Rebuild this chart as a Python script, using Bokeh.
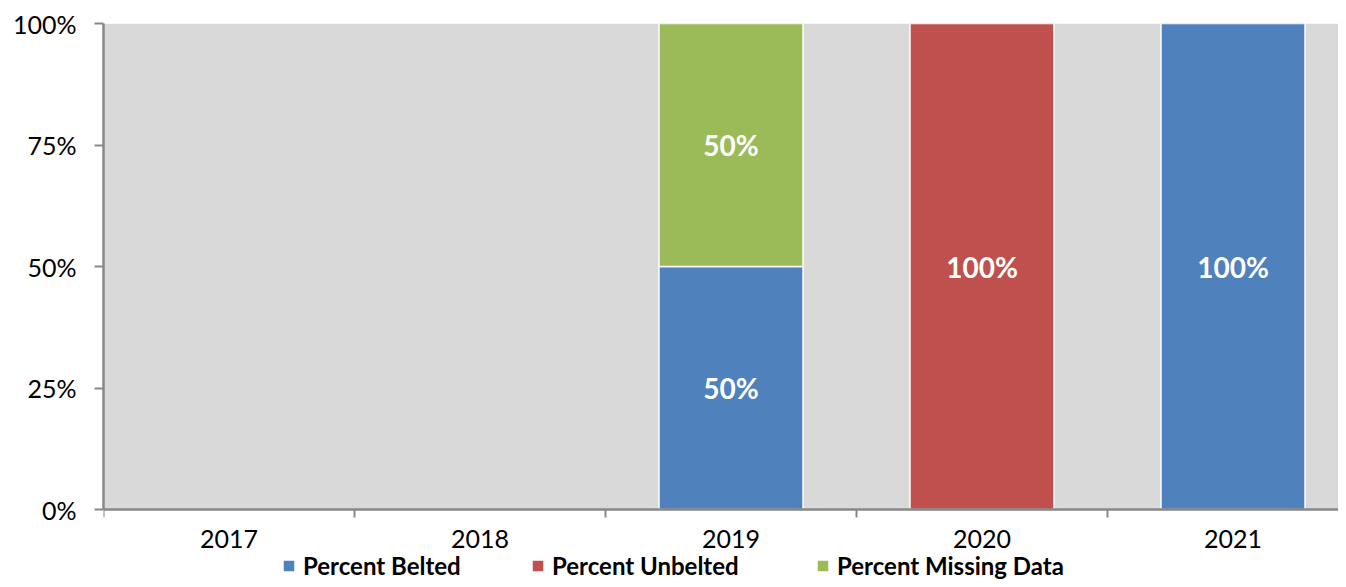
from bokeh.plotting import figure
from bokeh.models import (ColumnDataSource, FixedTicker, NumeralTickFormatter, Legend, LegendItem,
                          Range1d, LinearAxis, BoxAnnotation)
from bokeh.core.properties import value
from bokeh.embed import file_html
from bokeh.resources import INLINE

years = ["2017", "2018", "2019", "2020", "2021"]
belted = [0.0, 0.0, 0.5, 0.0, 1.0]
unbelted = [0.0, 0.0, 0.0, 1.0, 0.0]
missing = [0.0, 0.0, 0.5, 0.0, 0.0]
y_ticks = [0, 0.25, 0.5, 0.75, 1.0]

series = [("Percent Belted", belted, "#4F81BD"),
          ("Percent Unbelted", unbelted, "#C0504D"),
          ("Percent Missing Data", missing, "#9BBB59")]

FONT = "Lato"
W, H = 1338, 579
TOP, LEFT, ZERO_Y = 23, 103, 509
span = (H - TOP) / (ZERO_Y - TOP)
p = figure(width=W, height=H, output_backend="svg", toolbar_location=None,
           x_range=Range1d(0, (W - LEFT) / 251), y_range=Range1d(1 - span, 1),
           x_axis_location=None,
           min_border_left=LEFT, min_border_top=TOP, min_border_right=0, min_border_bottom=0)
p.background_fill_color = "white"
p.border_fill_color = "white"
p.outline_line_color = None
p.add_layout(BoxAnnotation(bottom=0, top=1, fill_color="#D9D9D9", fill_alpha=1,
                           line_color=None, level="underlay"))
p.xgrid.grid_line_color = None
p.ygrid.ticker = FixedTicker(ticks=y_ticks[1:])
p.ygrid.grid_line_color = "#8C8C8C"
p.ygrid.grid_line_width = 1.5

xs = [i + 0.5 for i in range(len(years))]
bottoms = [0.0] * len(years)
renderers = []
for name, vals, color in series:
    sx, bot, top, lab, ly = [], [], [], [], []
    for i, v in enumerate(vals):
        if v > 0:
            sx.append(xs[i]); bot.append(bottoms[i]); top.append(bottoms[i] + v)
            lab.append(f"{round(v*100)}%"); ly.append(bottoms[i] + v / 2)
        bottoms[i] += v
    src = ColumnDataSource(dict(x=sx, bottom=bot, top=top, label=lab, ly=ly))
    r = p.vbar(x="x", bottom="bottom", top="top", width=0.574, source=src,
               fill_color=color, line_color="white", line_width=1.5)
    p.text(x="x", y="ly", text="label", source=src, text_color="white",
           text_font=value(FONT), text_font_style="bold", text_font_size="28px",
           text_align="center", text_baseline="middle")
    renderers.append((name, r))

xa = LinearAxis(fixed_location=0)
xa.ticker = FixedTicker(ticks=xs, minor_ticks=[0, 1, 2, 3, 4, 5])
xa.major_label_overrides = {x: y for x, y in zip(xs, years)}
xa.major_tick_out = 0
xa.major_tick_in = 0
xa.minor_tick_out = 8
xa.minor_tick_in = 0
xa.minor_tick_line_color = "#878787"
xa.minor_tick_line_width = 2
xa.axis_line_color = "#878787"
xa.axis_line_width = 2.5
xa.major_label_text_font = FONT
xa.major_label_text_font_size = "25px"
xa.major_label_text_color = "black"
xa.major_label_standoff = 12
p.add_layout(xa, "below")

ya = p.yaxis[0]
ya.ticker = FixedTicker(ticks=y_ticks)
ya.bounds = (0, 1)
ya.formatter = NumeralTickFormatter(format="0%")
ya.major_tick_out = 9
ya.major_tick_in = 0
ya.minor_tick_line_color = None
ya.major_tick_line_color = "#878787"
ya.major_tick_line_width = 2
ya.axis_line_color = "#878787"
ya.axis_line_width = 2.5
ya.major_label_text_font = FONT
ya.major_label_text_font_size = "25px"
ya.major_label_text_color = "black"
ya.major_label_standoff = 18

leg_x = [178, 427, 712]
for (name, r), lx in zip(renderers, leg_x):
    lg = Legend(items=[LegendItem(label=name, renderers=[r])], location=(lx, -1),
                orientation="horizontal", border_line_color=None,
                background_fill_alpha=0, padding=0, margin=0,
                glyph_width=15, glyph_height=15, label_standoff=7, label_height=15,
                label_text_font=FONT, label_text_font_style="bold",
                label_text_font_size="24px", label_text_color="black")
    p.add_layout(lg)

open("out.html", "w").write(file_html(p, INLINE))
